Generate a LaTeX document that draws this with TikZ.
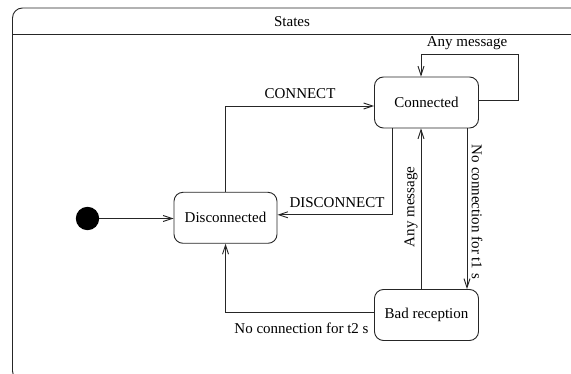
\documentclass[tikz,border=0pt]{standalone}
\usepackage{fontspec}
\setmainfont{Liberation Serif}
\usetikzlibrary{arrows.meta}
\begin{document}
\begin{tikzpicture}[x=1pt,y=-1pt,
  every node/.style={font=\fontsize{15}{18}\selectfont},
  state/.style={draw=black!85, line width=0.9pt, rounded corners=9pt, minimum width=104pt, minimum height=51pt, inner sep=0pt},
  conn/.style={draw=black!85, line width=0.9pt, -{Straight Barb[length=9pt,width=6pt]}},
  lbl/.style={inner sep=1pt}]
\useasboundingbox (0,0) rectangle (571,374);
\clip (0,0) rectangle (571,374);
\draw[black!85, line width=0.9pt, rounded corners=10pt] (12.5,8) rectangle (600,381);
\draw[black!85, line width=0.9pt] (12.5,34) -- (600,34);
\node (title) at (292,22) {States};

\fill[black] (87.5,218.5) circle (11.7);
\coordinate (init) at (99,218.5);

\node[state, minimum width=103pt] (disc) at (225.5,217.8) {Disconnected};
\node[state] (conn) at (426.5,102.5) {Connected};
\node[state] (bad) at (426.5,315) {Bad reception};

\draw[conn] (init) -- (init -| disc.west);

% CONNECT
\draw[conn] (disc.north) |- ([yshift=-3.5pt]conn.west);
\node[lbl] (lc) at (300,94) {CONNECT};

% DISCONNECT
\draw[conn] ([xshift=-34.5pt]conn.south) |- ([yshift=3pt]disc.east);
\node[lbl] (ld) at (337,203) {DISCONNECT};

% self loop
\coordinate (sl1) at (518,100);
\coordinate (sl2) at (518,54);
\draw[conn] (sl1 -| conn.east) -- (sl1) -- (sl2) -| ([xshift=-5.5pt]conn.north);
\node[lbl] (la) at (467,43) {Any message};

% Any message up
\draw[conn] ([xshift=-5.5pt]bad.north) -- ([xshift=-5.5pt]conn.south);
\node[lbl, rotate=90] (lam) at (411,207) {Any message};

% No connection t1
\draw[conn] ([xshift=40.5pt]conn.south) -- ([xshift=40.5pt]bad.north);
\node[lbl, rotate=-90] (lt1) at (477,212) {No connection for t1 s};

% No connection t2
\draw[conn] ([yshift=3pt]bad.west) -| (disc.south);
\node[lbl] (lt2) at (301.5,328) {No connection for t2 s};
\end{tikzpicture}
\end{document}
